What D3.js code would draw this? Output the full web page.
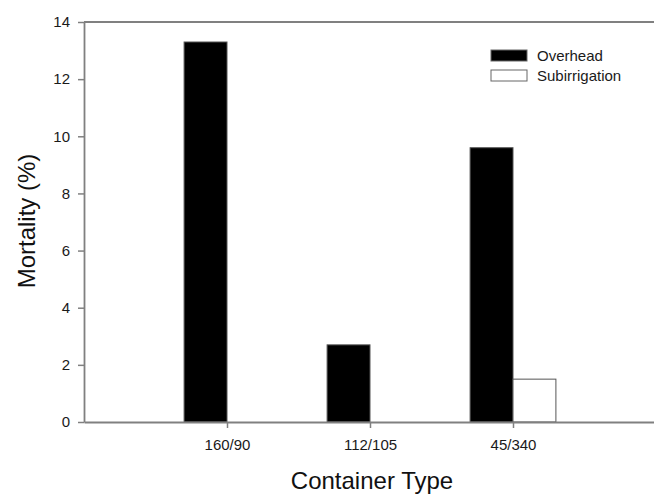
<!DOCTYPE html>
<html>
<head>
<meta charset="utf-8">
<script src="https://cdn.jsdelivr.net/npm/d3@7"></script>
<style>
  body { margin: 0; background: #fff; }
  text { font-family: "Liberation Sans", Arial, sans-serif; }
</style>
</head>
<body>
<script>
// Data
var categories = ["160/90", "112/105", "45/340"];
var overhead = [13.3, 2.7, 9.6];
var subirrigation = [0, 0, 1.5];
var yTicks = [0, 2, 4, 6, 8, 10, 12, 14];

var svgWidth = 654;
var svgHeight = 494;

var margin = { top: 22, right: -2, bottom: 72, left: 84 };
var chartWidth = svgWidth - margin.left - margin.right;
var chartHeight = svgHeight - margin.top - margin.bottom;

var svg = d3.select("body")
  .append("svg")
  .attr("width", svgWidth)
  .attr("height", svgHeight)
  .style("display", "block");

var chartGroup = svg.append("g")
  .attr("transform", `translate(${margin.left}, ${margin.top})`);

// categories sit at positions 1, 2, 3 on a 0..4 axis
var xScale = d3.scaleLinear().domain([0, 4]).range([0, chartWidth]);
var yScale = d3.scaleLinear().domain([0, 14]).range([chartHeight, 0]);
var barW = 0.3;

var rows = categories.map((c, i) => ({ cat: c, pos: i + 1, over: overhead[i], sub: subirrigation[i] }));

// bars
chartGroup.selectAll(".over")
  .data(rows)
  .enter()
  .append("rect")
  .attr("class", "over")
  .attr("x", d => xScale(d.pos - barW))
  .attr("y", d => yScale(d.over))
  .attr("width", xScale(barW) - xScale(0))
  .attr("height", d => chartHeight - yScale(d.over))
  .attr("fill", "#000")
  .attr("stroke", "#555")
  .attr("stroke-width", 1);

chartGroup.selectAll(".sub")
  .data(rows.filter(d => d.sub > 0))
  .enter()
  .append("rect")
  .attr("class", "sub")
  .attr("x", d => xScale(d.pos))
  .attr("y", d => yScale(d.sub))
  .attr("width", xScale(barW) - xScale(0))
  .attr("height", d => chartHeight - yScale(d.sub))
  .attr("fill", "#fff")
  .attr("stroke", "#555")
  .attr("stroke-width", 1);

// axes
var leftAxis = d3.axisLeft(yScale).tickValues(yTicks).tickSize(6).tickSizeOuter(0);
var bottomAxis = d3.axisBottom(xScale)
  .tickValues(rows.map(d => d.pos))
  .tickFormat((d, i) => categories[i])
  .tickSize(6).tickSizeOuter(0);

var yAxisG = chartGroup.append("g").call(leftAxis);
var xAxisG = chartGroup.append("g")
  .attr("transform", `translate(0, ${chartHeight})`)
  .call(bottomAxis);

[yAxisG, xAxisG].forEach(function(g) {
  g.select(".domain").attr("stroke", "#808080").attr("stroke-width", 1.8);
  g.selectAll(".tick line").attr("stroke", "#808080").attr("stroke-width", 1.5);
  g.selectAll(".tick text")
    .attr("fill", "#1a1a1a")
    .style("font-size", "15px")
    .style("font-family", "'Liberation Sans', Arial, sans-serif");
});
yAxisG.selectAll(".tick text").attr("x", -14);
xAxisG.selectAll(".tick text").attr("y", 17);

// top frame line
chartGroup.append("line")
  .attr("x1", 0).attr("x2", chartWidth)
  .attr("y1", 0).attr("y2", 0)
  .attr("stroke", "#808080")
  .attr("stroke-width", 1.8);

// axis titles
svg.append("text")
  .attr("x", 372)
  .attr("y", 489)
  .attr("text-anchor", "middle")
  .style("font-size", "24px")
  .attr("fill", "#111")
  .text("Container Type");

svg.append("text")
  .attr("transform", "translate(35, 221) rotate(-90)")
  .attr("text-anchor", "middle")
  .style("font-size", "24px")
  .attr("fill", "#111")
  .text("Mortality (%)");

// legend
var legendNames = ["Overhead", "Subirrigation"];
var legendFills = ["#000", "#fff"];
var legend = svg.append("g").attr("transform", "translate(491, 50)");
legendNames.forEach(function(name, i) {
  legend.append("rect")
    .attr("x", 0).attr("y", i * 20)
    .attr("width", 36).attr("height", 11)
    .attr("fill", legendFills[i])
    .attr("stroke", "#666");
  legend.append("text")
    .attr("x", 46).attr("y", i * 20 + 11)
    .style("font-size", "15px")
    .attr("fill", "#1a1a1a")
    .text(name);
});
</script>
</body>
</html>
